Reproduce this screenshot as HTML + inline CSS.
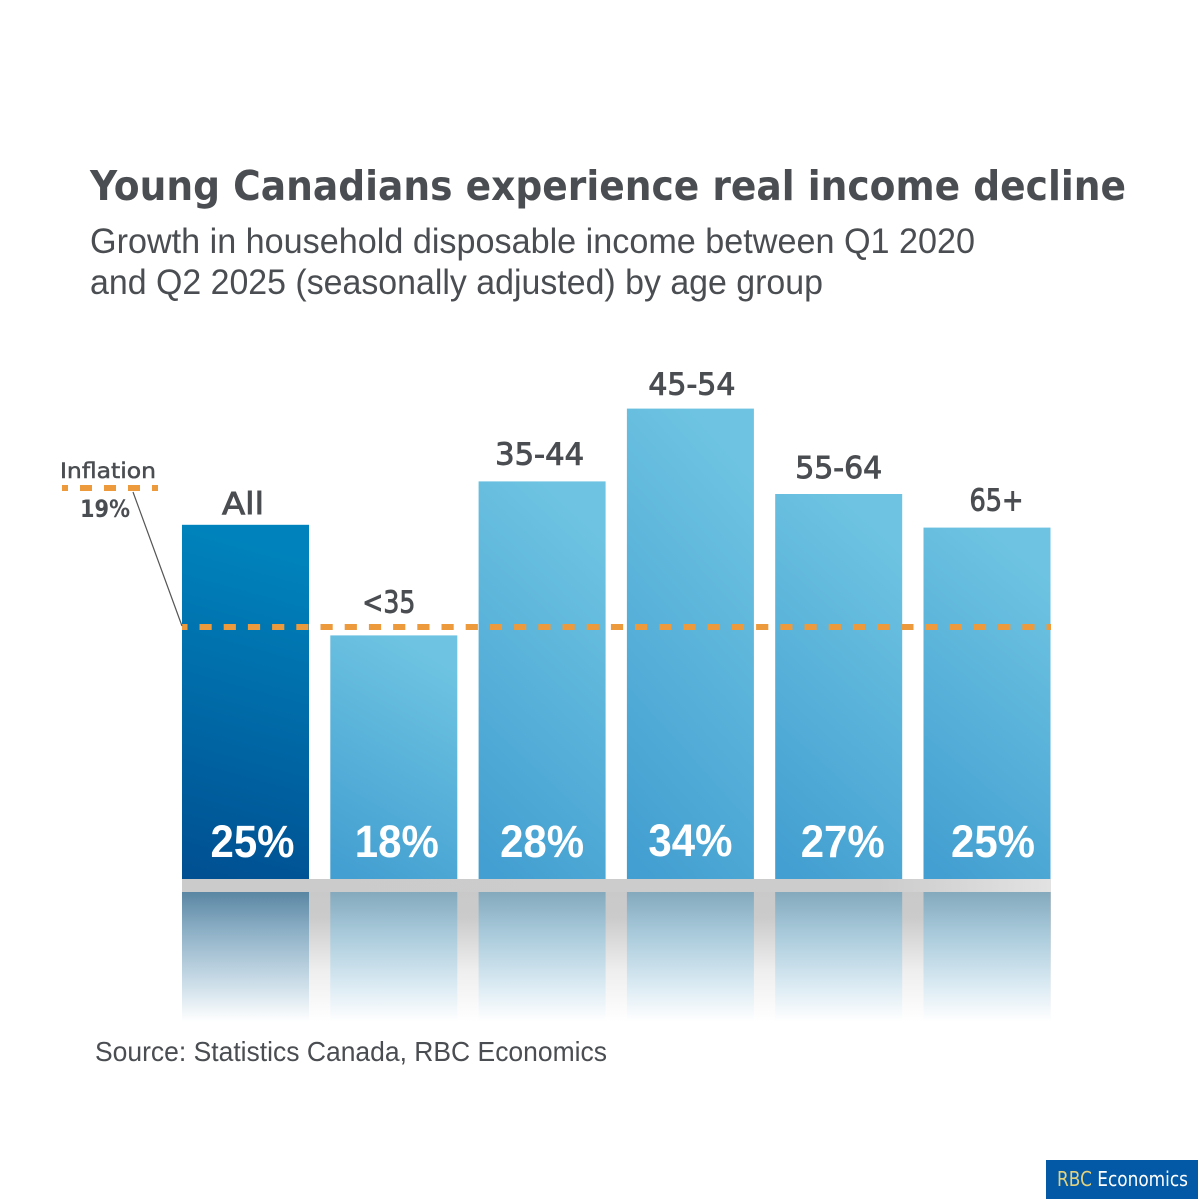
<!DOCTYPE html>
<html lang="en">
<head>
<meta charset="utf-8">
<title>Young Canadians experience real income decline</title>
<style>
html,body{margin:0;padding:0;background:#fff;width:1200px;height:1200px;overflow:hidden}
svg{display:block}
text{font-family:"Liberation Sans",sans-serif;fill:#4a4d51}
.hum{font-family:"DejaVu Sans","Liberation Sans",sans-serif}
</style>
</head>
<body>
<svg id="chart" xmlns="http://www.w3.org/2000/svg" width="1200" height="1200" viewBox="0 0 1200 1200">
  <defs>
    <linearGradient id="lightBar" x1="0.2" y1="1" x2="0.5" y2="0">
      <stop offset="0" stop-color="#439fd1"/><stop offset="1" stop-color="#6dc3e1"/>
    </linearGradient>
    <linearGradient id="darkBar" x1="0" y1="1" x2="0.1" y2="0">
      <stop offset="0" stop-color="#004f91"/><stop offset="1" stop-color="#0083bc"/>
    </linearGradient>
    <linearGradient id="lightReflect" x1="0" y1="0" x2="0" y2="1">
      <stop offset="0" stop-color="#84a9bd"/><stop offset="0.3" stop-color="#a6c8d9"/><stop offset="0.7" stop-color="#d8e9f2"/><stop offset="1" stop-color="#ffffff"/>
    </linearGradient>
    <linearGradient id="darkReflect" x1="0" y1="0" x2="0" y2="1">
      <stop offset="0" stop-color="#5a86a3"/><stop offset="0.3" stop-color="#8db0c6"/><stop offset="0.7" stop-color="#cbdde8"/><stop offset="1" stop-color="#ffffff"/>
    </linearGradient>
    <linearGradient id="gapReflect" x1="0" y1="0" x2="0" y2="1">
      <stop offset="0" stop-color="#c9c9c9"/><stop offset="0.2" stop-color="#cbcbcb"/><stop offset="0.6" stop-color="#eeeeee"/><stop offset="1" stop-color="#ffffff"/>
    </linearGradient>
    <linearGradient id="floorShade" x1="0" y1="0" x2="1" y2="0">
      <stop offset="0" stop-color="#cbcbcb"/><stop offset="0.8" stop-color="#cccccc"/><stop offset="1" stop-color="#e2e2e2"/>
    </linearGradient>
  </defs>

  <text class="hum" x="90" y="200" font-size="41" font-weight="700" textLength="1036" lengthAdjust="spacingAndGlyphs">Young Canadians experience real income decline</text>
  <text x="90" y="253" font-size="35" textLength="885" lengthAdjust="spacingAndGlyphs">Growth in household disposable income between Q1 2020</text>
  <text x="90" y="294" font-size="35" textLength="733" lengthAdjust="spacingAndGlyphs">and Q2 2025 (seasonally adjusted) by age group</text>

  <g id="floor">
    <rect x="182" y="892" width="869" height="130" fill="url(#gapReflect)"/>
    <rect x="182" y="879" width="869" height="13" fill="url(#floorShade)"/>
  </g>
  <g id="reflections"></g>
  <g id="bars"></g>
  <g id="categoryLabels"></g>
  <g id="valueLabels"></g>
  <g id="inflation"></g>

  <g>
    <text class="hum" x="60" y="478" font-size="21" textLength="96" lengthAdjust="spacingAndGlyphs" stroke="#4a4d51" stroke-width="0.5">Inflation</text>
    <line x1="62" y1="488" x2="158" y2="488" stroke="#ec9a3c" stroke-width="6" stroke-dasharray="12 12" stroke-dashoffset="6"/>
    <text id="inflationLegendValue" class="hum" x="80" y="517" font-size="24" font-weight="700" textLength="50" lengthAdjust="spacingAndGlyphs">19%</text>
    <line x1="133" y1="492" x2="182" y2="626" stroke="#555" stroke-width="1.2"/>
  </g>

  <text x="95" y="1061" font-size="27.5" textLength="512" lengthAdjust="spacingAndGlyphs">Source: Statistics Canada, RBC Economics</text>

  <g>
    <rect x="1046" y="1160" width="152" height="39" fill="#0359a6"/>
    <text class="hum" x="1057" y="1186" font-size="20" textLength="131" lengthAdjust="spacingAndGlyphs" style="fill:#fff"><tspan style="fill:#e3d27c">RBC</tspan> Economics</text>
  </g>
</svg>

<script>
// Data
const categories = ['All', '<35', '35-44', '45-54', '55-64', '65+'];
const seriesValues = [25.3, 17.4, 28.4, 33.6, 27.5, 25.1];
const valueLabelText = ['25%', '18%', '28%', '34%', '27%', '25%'];
const inflationValue = 18;

// Axis functions
const baselineY = 879;
const pxPerPoint = 14;
function yAxis(v) { return baselineY - v * pxPerPoint; }
function xAxis(i) { return 182 + i * 148.3; }
const barWidth = 127;
const plotRight = 1051;

// Hand-placed label nudges, in the designer's layout
const catNudgeX = [-2.5, -5, -2.5, 1.5, 0, 9.5];
const catGap = [11, 23, 17, 14, 16, 17];
const valNudgeX = [7, 3, 0, 0, 4, 6];
const valBaseline = [857, 857, 857, 856, 857, 857];

const NS = 'http://www.w3.org/2000/svg';
function mk(tag, parent, attrs) {
  const el = document.createElementNS(NS, tag);
  for (const k in attrs) el.setAttribute(k, attrs[k]);
  parent.appendChild(el);
  return el;
}
const barsG = document.getElementById('bars');
const reflG = document.getElementById('reflections');
const catG = document.getElementById('categoryLabels');
const valG = document.getElementById('valueLabels');
const infG = document.getElementById('inflation');

categories.forEach(function (cat, i) {
  const top = yAxis(seriesValues[i]);
  const isAll = i === 0;

  const refl = mk('rect', reflG, { x: xAxis(i), y: 892, width: barWidth, height: 130, fill: isAll ? 'url(#darkReflect)' : 'url(#lightReflect)' });
  
  

  const bar = mk('rect', barsG, { x: xAxis(i), y: top, width: barWidth, height: baselineY - top, fill: isAll ? 'url(#darkBar)' : 'url(#lightBar)' });
  
  

  const c = mk('text', catG, { x: xAxis(i) + barWidth / 2 + catNudgeX[i], y: top - catGap[i], 'text-anchor': 'middle', 'font-size': 30, 'font-weight': 400, 'class': 'hum', 'stroke': '#4a4d51', 'stroke-width': 0.9, textLength: [42, 53, 89, 87, 87, 54][i], lengthAdjust: 'spacingAndGlyphs' });
  c.textContent = cat;
  
  

  const v = mk('text', valG, { x: xAxis(i) + barWidth / 2 + valNudgeX[i], y: valBaseline[i], 'text-anchor': 'middle', 'font-size': 45, 'font-weight': 700, textLength: 84, lengthAdjust: 'spacingAndGlyphs', style: 'fill:#fff' });
  v.textContent = valueLabelText[i];
  
  
});

const infLine = mk('line', infG, { x1: xAxis(0), x2: plotRight, y1: yAxis(inflationValue), y2: yAxis(inflationValue), stroke: '#ec9a3c', 'stroke-width': 6, 'stroke-dasharray': '12.2 12', 'stroke-dashoffset': 6.7 });


</script>
</body>
</html>
